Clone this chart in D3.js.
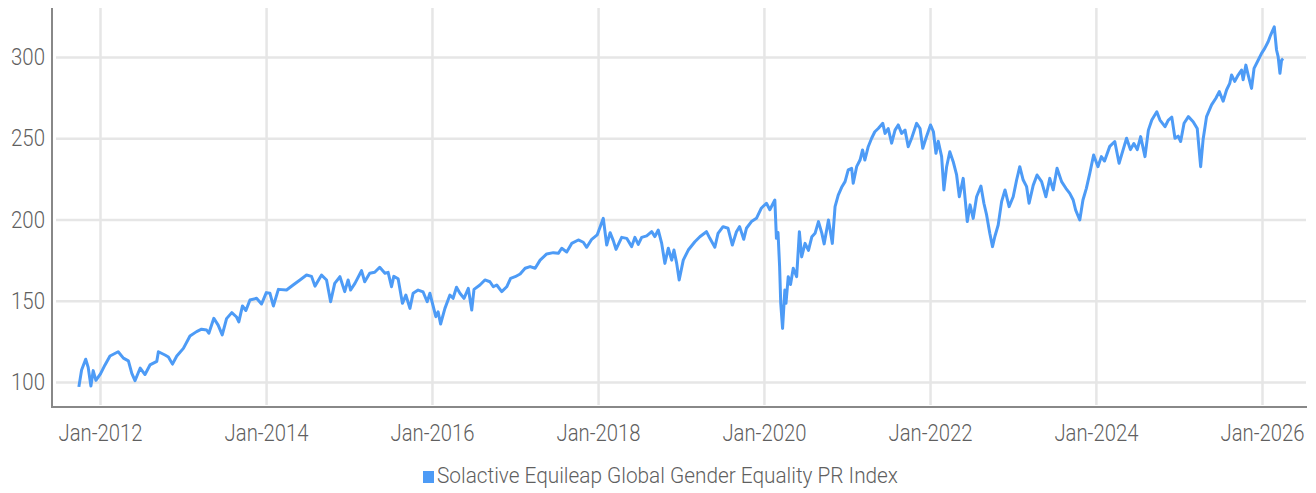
<!DOCTYPE html>
<html lang="en">
  <head>
    <meta charset="UTF-8" />
    <title>Solactive Equileap Global Gender Equality PR Index</title>
    <script src="https://d3js.org/d3.v7.min.js"></script>
    <style>
      body { margin: 0; background: #fff; }
      text { font-family: 'Roboto', sans-serif; font-weight: 300; fill: #5f5f5f; }
    </style>
  </head>
  <body>
    <svg width="1316" height="493"></svg>
    <script>
      // 数据
      var seriesName = 'Solactive Equileap Global Gender Equality PR Index'
      var dates = [
        '2011-09-30','2011-10-12','2011-10-30','2011-11-10','2011-11-22','2011-12-02','2011-12-14',
        '2012-01-03','2012-01-23','2012-02-14','2012-03-21','2012-04-13','2012-05-05','2012-05-20','2012-06-03','2012-06-26','2012-07-17','2012-08-08','2012-09-07','2012-09-14','2012-10-13','2012-10-28','2012-11-15','2012-12-04',
        '2013-01-02','2013-01-31','2013-03-01','2013-03-23','2013-04-14','2013-04-24','2013-05-16','2013-06-04','2013-06-22','2013-07-11','2013-08-03','2013-08-24','2013-09-03','2013-09-19','2013-10-04','2013-10-22','2013-11-20','2013-12-12',
        '2014-01-02','2014-01-18','2014-02-02','2014-02-24','2014-04-01','2014-04-30','2014-05-30','2014-06-28','2014-07-20','2014-08-04','2014-09-02','2014-09-24','2014-10-12','2014-10-30','2014-11-22','2014-12-13','2014-12-28',
        '2015-01-08','2015-01-27','2015-02-25','2015-03-11','2015-04-02','2015-04-24','2015-05-16','2015-06-08','2015-06-22','2015-07-07','2015-07-17','2015-08-05','2015-08-24','2015-09-08','2015-09-26','2015-10-10','2015-11-01','2015-11-23','2015-12-11','2015-12-23',
        '2016-01-18','2016-01-28','2016-02-08','2016-02-27','2016-03-20','2016-04-03','2016-04-18','2016-05-03','2016-05-21','2016-06-09','2016-06-24','2016-07-04','2016-07-30','2016-08-21','2016-09-12','2016-09-27','2016-10-12','2016-11-03','2016-11-25','2016-12-12',
        '2017-01-01','2017-01-23','2017-02-14','2017-03-08','2017-03-30','2017-04-21','2017-05-20','2017-06-18','2017-07-10','2017-07-25','2017-08-16','2017-09-07','2017-10-06','2017-10-28','2017-11-12','2017-12-04','2017-12-28',
        '2018-01-24','2018-02-08','2018-02-23','2018-03-09','2018-03-21','2018-04-15','2018-05-07','2018-05-29','2018-06-12','2018-06-27','2018-07-12','2018-08-03','2018-08-25','2018-09-08','2018-09-23','2018-10-08','2018-10-22','2018-11-06','2018-11-21','2018-12-01','2018-12-13','2018-12-24',
        '2019-01-11','2019-02-02','2019-03-03','2019-03-25','2019-04-23','2019-05-08','2019-05-30','2019-06-13','2019-07-05','2019-07-27','2019-08-15','2019-09-02','2019-09-16','2019-10-04','2019-10-16','2019-11-07','2019-11-29','2019-12-20',
        '2020-01-12','2020-01-27','2020-02-18','2020-02-25','2020-03-03','2020-03-10','2020-03-15','2020-03-23','2020-04-02','2020-04-07','2020-04-17','2020-04-27','2020-05-09','2020-05-24','2020-06-05','2020-06-15','2020-06-30','2020-07-15','2020-07-30','2020-08-13','2020-08-28','2020-09-12','2020-09-22','2020-10-11','2020-10-28','2020-11-09','2020-11-23','2020-12-08','2020-12-23',
        '2021-01-06','2021-01-21','2021-01-28','2021-02-12','2021-02-27','2021-03-10','2021-03-20','2021-04-04','2021-04-19','2021-05-03','2021-05-18','2021-06-07','2021-06-17','2021-07-01','2021-07-16','2021-07-31','2021-08-14','2021-08-29','2021-09-13','2021-09-27','2021-10-12','2021-11-03','2021-11-18','2021-11-30','2021-12-14',
        '2022-01-03','2022-01-16','2022-01-27','2022-02-06','2022-02-21','2022-03-03','2022-03-15','2022-03-29','2022-04-13','2022-04-28','2022-05-10','2022-05-27','2022-06-14','2022-06-26','2022-07-10','2022-07-25','2022-08-13','2022-08-26','2022-09-07','2022-09-21','2022-10-03','2022-10-13','2022-10-28','2022-11-12','2022-11-27','2022-12-15',
        '2023-01-02','2023-01-17','2023-01-31','2023-02-15','2023-03-02','2023-03-13','2023-03-31','2023-04-17','2023-05-07','2023-05-26','2023-06-12','2023-06-27','2023-07-14','2023-08-03','2023-08-22','2023-09-08','2023-09-23','2023-10-04','2023-10-22','2023-11-05','2023-11-20','2023-12-05','2023-12-22',
        '2024-01-10','2024-01-25','2024-02-08','2024-03-02','2024-03-24','2024-04-12','2024-04-30','2024-05-15','2024-06-01','2024-06-16','2024-07-01','2024-07-16','2024-08-04','2024-08-19','2024-09-03','2024-09-25','2024-10-09','2024-10-31','2024-11-15','2024-11-30','2024-12-14','2024-12-28',
        '2025-01-08','2025-01-23','2025-02-11','2025-03-04','2025-03-22','2025-04-06','2025-04-17','2025-05-02','2025-05-24','2025-06-12','2025-06-27','2025-07-14','2025-07-29','2025-08-12','2025-08-20','2025-09-03','2025-09-18','2025-10-03','2025-10-10','2025-10-22','2025-11-01','2025-11-16','2025-11-27','2025-12-15','2025-12-30',
        '2026-01-13','2026-01-28','2026-02-08','2026-02-24','2026-03-06','2026-03-13','2026-03-21','2026-03-28','2026-04-04'
      ]
      var values = [
        97, 107.4, 114, 109, 97.5, 107, 101,
        105, 110.5, 116, 118.6, 114.7, 113, 105.3, 100.8, 108.6, 104.6, 110.5, 112.7, 118.6, 116.6, 115.4, 111, 116,
        120.7, 128.3, 131, 132.5, 132, 130, 139.2, 135, 129, 139, 142.7, 140, 137, 146.8, 144, 150.5, 151.5, 148,
        155, 154.6, 146.8, 157, 156.6, 159.7, 162.8, 165.8, 165, 159, 165.8, 162.8, 149.4, 160.7, 164.8, 155.6, 162.8,
        156.6, 160.7, 168.5, 161.7, 166.9, 167.5, 170.6, 166.9, 167.5, 158.6, 165, 163.5, 148.4, 153.5, 145.3, 154.6, 156.6, 155.4, 149.4, 154.6,
        140.2, 143.2, 135.7, 145.3, 153.5, 151.5, 158.3, 154.6, 151.5, 157.6, 144.3, 157, 159.7, 162.8, 161.7, 158.6, 159.7, 155.6, 158.6, 163.8,
        164.8, 166.5, 170, 171, 170, 175, 178.8, 179.6, 179.2, 182.3, 180, 185.3, 187.4, 186, 182.9, 187.8, 190.5,
        200.7, 184.3, 191.9, 187, 181.6, 189, 188.4, 183.3, 189, 184.7, 189, 189.9, 192.5, 189.5, 193.5, 185.3, 173, 182.3, 175, 181.2, 173, 162.8,
        175, 181.2, 186.3, 189.4, 192.5, 188.4, 182.9, 191.5, 195.6, 194.6, 184.3, 192.5, 195.6, 187.8, 194.6, 198.7, 200.7, 206.9,
        210, 206, 212, 188.4, 192, 171, 148.4, 133, 156.6, 148.4, 164.8, 160, 170, 164.8, 192.5, 177, 185.3, 181, 189.4, 191.5, 198.7, 191.5, 185, 199.7, 185.3, 207.9, 215, 219.8, 223.3,
        230.5, 231.5, 222.3, 232.5, 236.6, 242.8, 236.6, 244.8, 250, 254, 256, 259.2, 253, 256, 247, 255, 258.2, 253, 255, 244.8, 250, 259.2, 256, 243.8, 250,
        258.2, 254, 240.7, 248.2, 238.7, 218.2, 232.5, 241.7, 235.6, 227.4, 214, 225.3, 198.7, 209, 200.7, 214, 220.6, 210, 202.8, 191.5, 183.3, 189.4, 196.6, 211, 218.2, 207.9,
        214, 224.3, 232.5, 224.3, 220.2, 210, 221, 227.4, 223.3, 214, 225.3, 218.2, 231.5, 223.3, 219.2, 216.1, 212, 205.8, 199.7, 212, 219.2, 228.4, 239.7,
        232.5, 238.7, 236, 245, 248, 234.6, 243, 250, 243, 246.8, 243, 251, 238.7, 255, 261.2, 266.3, 261.2, 257.1, 261.2, 263, 250, 251.3,
        248, 259.2, 263.3, 260.2, 256, 232.5, 249.4, 263.3, 270.5, 274.6, 278.7, 272.8, 279.7, 283.8, 288.9, 285, 288.9, 292, 286, 295, 289, 280.7, 293, 298, 302.2,
        305.3, 309.4, 313.5, 318.6, 304.3, 300.2, 290, 298, 299
      ]
      var yTicks = [100, 150, 200, 250, 300]
      var xTicks = ['2012-01-01','2014-01-01','2016-01-01','2018-01-01','2020-01-01','2022-01-01','2024-01-01','2026-01-01']

      var parse = d3.timeParse('%Y-%m-%d')
      var data = dates.map(function(d, i) {
        return { date: parse(d), value: values[i] }
      })

      var svg = d3.select('svg')
      var plotLeft = 52, plotRight = 1307, plotTop = 8, plotBottom = 407

      // 比例尺
      var x = d3.scaleTime()
        .domain([parse(xTicks[0]), parse(xTicks[xTicks.length - 1])])
        .range([100, 1262])
      var y = d3.scaleLinear()
        .domain([100, 300])
        .range([382, 57])

      // 网格线
      svg.append('g')
        .attr('transform', 'translate(1306,0)')
        .call(d3.axisLeft(y).tickValues(yTicks).tickSize(1250).tickFormat(''))
        .call(g => g.select('.domain').remove())
        .selectAll('line')
        .attr('stroke', '#e6e6e6')
        .attr('stroke-width', 2.5)

      svg.append('g')
        .attr('transform', 'translate(0,405)')
        .call(d3.axisBottom(x).tickValues(xTicks.map(parse)).tickSize(-(405 - plotTop)).tickFormat(''))
        .call(g => g.select('.domain').remove())
        .selectAll('line')
        .attr('stroke', '#e6e6e6')
        .attr('stroke-width', 2.5)

      // 坐标轴线
      svg.append('line')
        .attr('x1', plotLeft).attr('x2', plotLeft)
        .attr('y1', plotTop).attr('y2', plotBottom + 1)
        .attr('stroke', '#888').attr('stroke-width', 2)
      svg.append('line')
        .attr('x1', plotLeft).attr('x2', plotRight)
        .attr('y1', plotBottom).attr('y2', plotBottom)
        .attr('stroke', '#888').attr('stroke-width', 2)

      // 刻度文字（字体偏窄，用 textLength 压缩）
      var yAxis = svg.append('g')
        .attr('transform', 'translate(' + plotLeft + ',0)')
        .call(d3.axisLeft(y).tickValues(yTicks).tickSize(0).tickPadding(7))
      yAxis.select('.domain').remove()
      yAxis.selectAll('text')
        .style('font-size', '24px')
        .attr('fill', '#5f5f5f')
        .attr('textLength', 34)
        .attr('lengthAdjust', 'spacingAndGlyphs')

      var xAxis = svg.append('g')
        .attr('transform', 'translate(0,' + plotBottom + ')')
        .call(d3.axisBottom(x).tickValues(xTicks.map(parse)).tickSize(0).tickPadding(17).tickFormat(d3.timeFormat('Jan-%Y')))
      xAxis.select('.domain').remove()
      xAxis.selectAll('text')
        .style('font-size', '24px')
        .attr('fill', '#5f5f5f')
        .attr('textLength', 84)
        .attr('lengthAdjust', 'spacingAndGlyphs')

      // 折线
      var line = d3.line()
        .x(d => x(d.date))
        .y(d => y(d.value))

      svg.append('path')
        .datum(data)
        .attr('d', line)
        .attr('fill', 'none')
        .attr('stroke', '#4d9bf6')
        .attr('stroke-width', 3)
        .attr('stroke-linejoin', 'round')

      // 图例
      var legend = svg.append('g').attr('transform', 'translate(423,471)')
      legend.append('rect')
        .attr('width', 11).attr('height', 12)
        .attr('fill', '#4d9bf6')
      legend.append('text')
        .attr('x', 14).attr('y', 12)
        .style('font-size', '22px')
        .attr('textLength', 461)
        .attr('lengthAdjust', 'spacingAndGlyphs')
        .text(seriesName)
    </script>
  </body>
</html>
